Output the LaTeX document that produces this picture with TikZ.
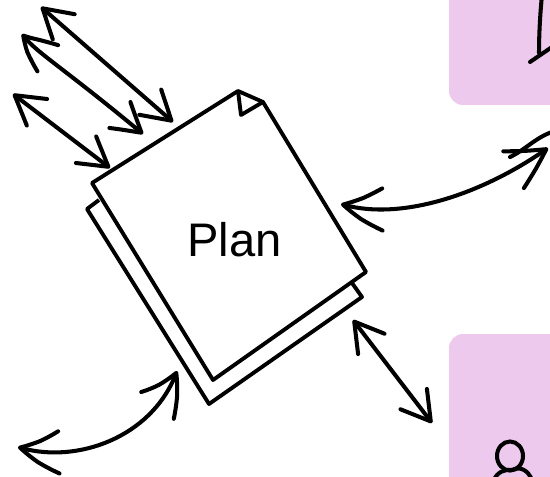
\documentclass[tikz,border=0pt]{standalone}
\usepackage{fontspec}
\setmainfont{Liberation Sans}
\usetikzlibrary{arrows.meta,bending}
\definecolor{boxpink}{HTML}{EDC9EE}
\tikzset{
  pagefill/.style={fill=white,draw=black,line width=2.2pt,line join=round},
  link/.style={line width=2.3pt,line cap=round,line join=round,<->,
    >={Straight Barb[length=16pt,width=19pt,round,bend]}},
  bighead/.style={>={Straight Barb[length=22pt,width=24pt,round,bend]}},
  icon/.style={line width=2.3pt,line cap=round},
}
\begin{document}
\begin{tikzpicture}[x=0.02cm,y=-0.02cm]
\useasboundingbox (0,0) rectangle (550,476);
\clip (0,0) rectangle (550,476);
% actor boxes
\fill[boxpink,rounded corners=8] (449,-30) rectangle (600,105);
\fill[boxpink,rounded corners=8] (449,334) rectangle (600,520);
% plan sheets
\draw[pagefill] (99,200) -- (87,209) -- (209,404) -- (362,297) -- (352,283);
\draw[pagefill] (92,183) -- (238,91) -- (263,102) -- (366,272) -- (213,380) -- cycle;
\draw[line width=2.2pt,line join=round] (238,91) -- (241,115) -- (263,102);
\node (plan) at (234.5,240) {\fontsize{26.8pt}{30pt}\selectfont Plan};
% free ends of the links
\coordinate (a1) at (41,7);
\coordinate (b1) at (173,122);
\coordinate (a2) at (22,34);
\coordinate (b2) at (143,134);
\coordinate (a3) at (13,94);
\coordinate (b3) at (110,168);
\coordinate (a4) at (18,447);
\coordinate (b4) at (177,371);
\coordinate (a5) at (341,204);
\coordinate (b5) at (548,148);
\coordinate (a6) at (353,320);
\coordinate (b6) at (432,423);
\draw[link] (a1) -- (b1);
\draw[link] (a2) .. controls (35,52) and (60,65) .. (b2);
\draw[link] (a3) -- (b3);
\draw[link,bighead] (a4) .. controls (75,465) and (153,438) .. (b4);
\draw[link,bighead] (a5) .. controls (400,222) and (483,194) .. (b5);
\draw[link] (a6) -- (b6);
\draw[icon] (510,157) .. controls (525,150) and (535,138) .. (552,132);
% icons, cut off by the page
\draw[icon] (542,-5) .. controls (540,15) and (539,35) .. (539,53);
\draw[icon] (530,62) -- (552,47);
\draw[icon] (510,456) ellipse (13 and 14.5);
\draw[icon] (494,480) .. controls (497,472) and (505,469) .. (512,470);
\draw[icon] (512,470) .. controls (520,466) and (528,470) .. (532,480);
\end{tikzpicture}
\end{document}
